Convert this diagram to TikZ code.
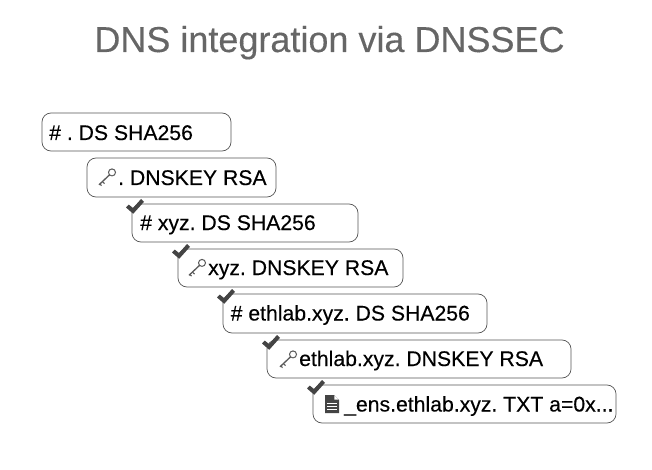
\documentclass[tikz,border=0pt]{standalone}
\usepackage{fontspec}
\setmainfont[FakeBold=0.25]{Liberation Sans}
\definecolor{titlegray}{HTML}{666666}
\definecolor{icongray}{HTML}{444444}
\definecolor{keygray}{HTML}{5A5A5A}
\definecolor{boxline}{HTML}{555555}
\tikzset{
  recbox/.style={draw=boxline,line width=0.7pt,rounded corners=9pt,fill=white},
  rectext/.style={anchor=base west,inner sep=0pt,text=black,font=\fontsize{21.2}{21.2}\selectfont},
  titletext/.style={anchor=base,inner sep=0pt,text=titlegray,font=\fontsize{36}{36}\selectfont},
}
\newcommand{\recbox}[5]{% name x1 y1 x2 y2
  \draw[recbox] (#2,#3) rectangle (#4,#5);
}
\newcommand{\chk}[2]{%
  \begin{scope}[shift={(#1,#2)}]
    \fill[icongray] (0,8.5) -- (2.8,5.6) -- (7,9) -- (15,0) -- (18,2.8) -- (7.2,14.8) -- cycle;
  \end{scope}}
\newcommand{\keyicon}[2]{%
  \begin{scope}[shift={(#1,#2)}]
    \draw[keygray,line width=1pt] (14,4.4) circle (3.5);
    \draw[keygray,line width=1.3pt] (11.6,6.8) -- (1,16.8);
    \draw[keygray,line width=1.1pt] (4.4,13.6) -- (6.6,15.6) (1.8,16) -- (3.6,17.6);
  \end{scope}}
\newcommand{\docicon}[2]{%
  \begin{scope}[shift={(#1,#2)}]
    \fill[icongray] (0,0) -- (9,0) -- (14,5) -- (14,18) -- (0,18) -- cycle;
    \fill[white] (9.4,0.4) -- (13.6,4.6) -- (9.4,4.6) -- cycle;
    \draw[white,line width=0.8pt] (2.4,8.5) -- (11.6,8.5) (2.4,11.2) -- (11.6,11.2) (2.4,13.9) -- (11.6,13.9);
  \end{scope}}
\begin{document}
\begin{tikzpicture}[x=1pt,y=-1pt]
\useasboundingbox (0,0) rectangle (652,470);
\node[titletext] (title) at (329.5,52) {DNS integration via DNSSEC};

\recbox{a}{42}{113}{231}{151}
\node[rectext] (ta) at (49,140) {\#\ .\ DS SHA256};

\recbox{b}{87}{158}{276}{197}
\keyicon{98}{168}
\node[rectext] (tb) at (118,185) {.\ DNSKEY RSA};

\recbox{c}{132}{204}{358}{242}
\chk{126}{199}
\node[rectext] (tc) at (140,230) {\#\ xyz.\ DS SHA256};

\recbox{d}{178}{249}{403}{287}
\chk{172}{244}
\keyicon{188}{258.5}
\node[rectext] (td) at (208,275) {xyz.\ DNSKEY RSA};

\recbox{e}{223}{294}{487}{333}
\chk{217}{289}
\node[rectext] (te) at (230.5,320.5) {\#\ ethlab.xyz.\ DS SHA256};

\recbox{f}{267}{340}{571}{378}
\chk{262}{335}
\keyicon{279}{350}
\node[rectext] (tf) at (299,366) {ethlab.xyz.\ DNSKEY RSA};

\recbox{g}{313}{385}{616}{423}
\chk{307}{380}
\docicon{325}{395}
\node[rectext] (tg) at (344,411.5) {\_ens.ethlab.xyz.\ TXT a=0x...};
\end{tikzpicture}
\end{document}
